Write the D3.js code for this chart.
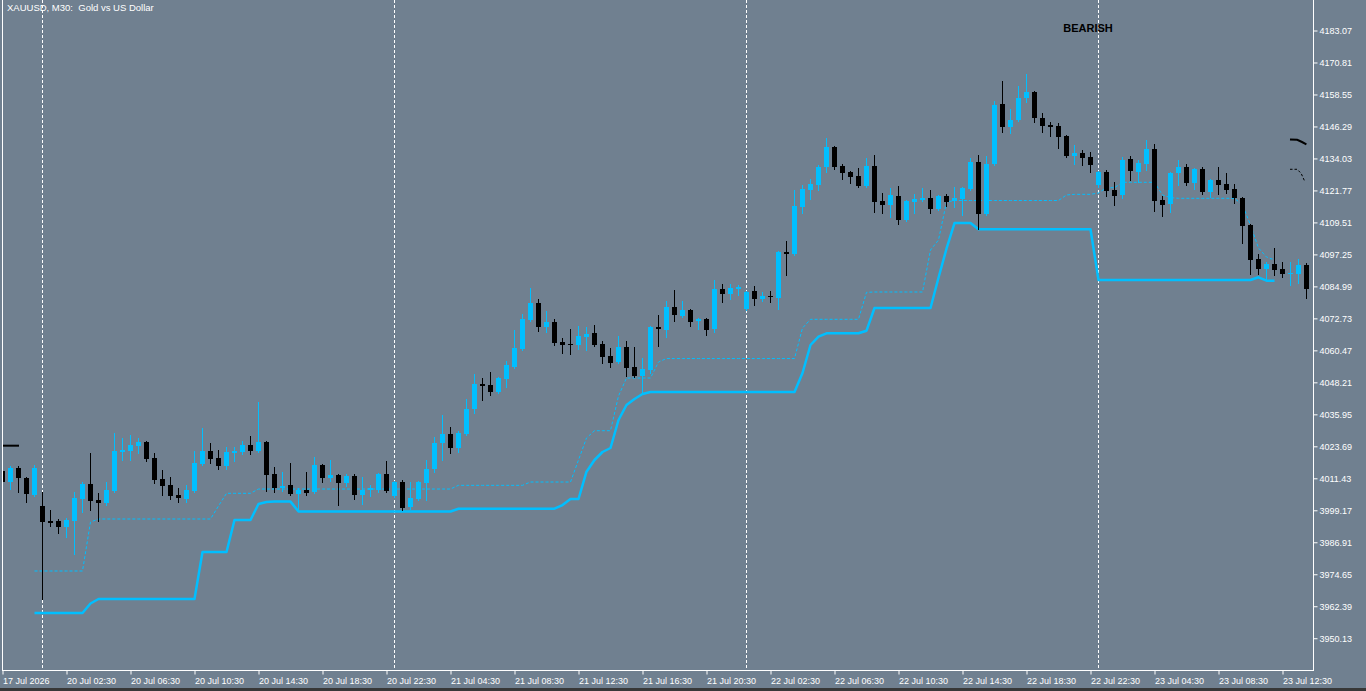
<!DOCTYPE html>
<html>
<head>
<meta charset="utf-8">
<title>XAUUSD, M30</title>
<script src="https://cdn.jsdelivr.net/npm/d3@7"></script>
<style>
  html, body { margin: 0; padding: 0; background: #708090; overflow: hidden; }
  svg { display: block; }
  text { font-family: "Liberation Sans", Arial, sans-serif; }
</style>
</head>
<body>
<svg id="chart" width="1366" height="691"></svg>
<script>

// ---- candles, 30 minute bars, oldest first ----
var opens = [
  4014.04, 4009.82, 4015.19, 4011.35, 4004.84, 4000.62, 3994.87, 3994.87, 3992.57, 3994.87,
  4003.30, 4009.05, 4002.92, 4001.77, 4006.37, 4021.32, 4021.70, 4023.62, 4025.15, 4019.02,
  4010.97, 4008.67, 4004.84, 4003.30, 4006.37, 4016.72, 4021.70, 4019.02, 4015.95, 4020.93,
  4021.32, 4024.00, 4021.70, 4025.15, 4012.88, 4007.52, 4008.67, 4005.22, 4006.75, 4005.99,
  4016.34, 4011.35, 4012.50, 4009.43, 4012.12, 4004.84, 4006.75, 4006.75, 4012.88, 4004.45,
  4009.82, 4000.24, 4003.30, 4009.43, 4014.80, 4024.77, 4028.22, 4022.85, 4028.22, 4037.80,
  4047.38, 4047.00, 4044.32, 4049.30, 4053.90, 4060.79, 4071.91, 4078.42, 4069.23, 4071.15,
  4063.48, 4062.71, 4062.33, 4065.39, 4066.93, 4062.71, 4058.12, 4055.82, 4061.56, 4053.90,
  4050.45, 4052.75, 4069.23, 4068.08, 4076.90, 4073.45, 4075.75, 4071.53, 4072.30, 4068.46,
  4083.80, 4081.88, 4083.80, 4076.13, 4083.03, 4079.96, 4081.11, 4080.35, 4097.98, 4097.21,
  4115.23, 4121.74, 4123.66, 4130.56, 4138.22, 4130.94, 4128.64, 4127.11, 4123.27, 4130.94,
  4117.53, 4115.99, 4119.44, 4110.24, 4117.14, 4117.91, 4118.68, 4114.46, 4119.44, 4117.53,
  4118.29, 4122.13, 4132.48, 4112.54, 4131.71, 4154.71, 4145.89, 4148.57, 4157.01, 4159.31,
  4149.34, 4146.66, 4146.27, 4142.44, 4134.78, 4135.92, 4134.39, 4123.66, 4128.64, 4121.74,
  4119.83, 4133.62, 4128.64, 4131.71, 4137.46, 4117.91, 4116.38, 4128.26, 4130.56, 4124.43,
  4129.79, 4120.98, 4125.58, 4124.04, 4122.13, 4118.68, 4108.33, 4095.30, 4091.46, 4093.38,
  4091.46, 4089.55, 4089.55, 4092.99
];
var highs = [
  4014.80, 4015.95, 4015.95, 4011.74, 4016.34, 4005.99, 3999.09, 3995.64, 3996.02, 4005.99,
  4009.82, 4020.93, 4005.60, 4009.82, 4028.60, 4026.69, 4027.84, 4026.69, 4025.53, 4020.93,
  4014.42, 4011.74, 4007.52, 4008.67, 4021.70, 4030.52, 4024.77, 4022.08, 4023.23, 4023.23,
  4025.53, 4027.46, 4040.48, 4025.53, 4015.57, 4013.65, 4017.10, 4007.52, 4013.65, 4019.40,
  4016.72, 4018.25, 4012.88, 4012.88, 4012.88, 4011.74, 4008.67, 4013.27, 4017.87, 4010.20,
  4010.59, 4009.82, 4010.20, 4018.25, 4027.07, 4035.50, 4030.90, 4029.37, 4041.63, 4051.21,
  4049.69, 4051.98, 4050.07, 4056.20, 4068.08, 4074.21, 4084.18, 4079.96, 4075.36, 4072.30,
  4065.02, 4068.46, 4069.61, 4069.23, 4069.99, 4063.86, 4061.19, 4065.78, 4063.86, 4061.56,
  4057.35, 4069.61, 4073.83, 4079.20, 4083.41, 4079.20, 4076.13, 4072.68, 4072.68, 4087.25,
  4085.71, 4085.71, 4085.33, 4083.03, 4084.95, 4082.65, 4083.03, 4098.36, 4102.20, 4121.74,
  4123.66, 4125.96, 4131.33, 4141.68, 4138.60, 4131.71, 4129.03, 4130.18, 4134.01, 4135.16,
  4120.59, 4122.51, 4123.27, 4117.91, 4120.21, 4122.51, 4121.74, 4119.83, 4120.21, 4122.89,
  4122.89, 4134.01, 4135.16, 4134.78, 4155.86, 4163.52, 4152.79, 4161.61, 4166.21, 4159.69,
  4151.26, 4147.81, 4147.42, 4142.83, 4138.99, 4137.07, 4136.31, 4129.03, 4129.41, 4124.81,
  4134.39, 4134.78, 4133.24, 4140.91, 4139.38, 4119.44, 4128.64, 4133.24, 4131.71, 4130.18,
  4130.56, 4125.96, 4130.56, 4128.26, 4124.04, 4119.06, 4108.71, 4097.21, 4094.15, 4099.51,
  4094.15, 4094.15, 4095.30, 4093.76
];
var lows = [
  4009.05, 4007.13, 4005.99, 4002.15, 4004.45, 3964.97, 3992.96, 3990.27, 3988.74, 3982.22,
  3998.32, 3999.09, 3994.87, 4001.00, 4005.99, 4018.25, 4018.25, 4020.93, 4017.87, 4009.43,
  4004.84, 4003.30, 4002.15, 4002.15, 4005.99, 4016.34, 4017.10, 4014.80, 4014.80, 4017.87,
  4020.55, 4020.55, 4021.32, 4006.37, 4005.99, 4006.37, 4004.84, 3998.70, 4004.84, 4005.60,
  4009.82, 4010.20, 4001.00, 4008.29, 4003.30, 4001.39, 4004.45, 4005.99, 4005.99, 4004.07,
  3999.09, 3999.47, 4002.92, 4002.92, 4013.65, 4018.25, 4020.93, 4021.32, 4027.84, 4036.27,
  4041.25, 4043.17, 4043.93, 4046.23, 4053.52, 4060.41, 4071.53, 4067.70, 4067.31, 4062.33,
  4059.27, 4058.88, 4060.79, 4060.41, 4061.95, 4055.43, 4053.90, 4055.43, 4050.45, 4050.07,
  4044.31, 4051.60, 4061.95, 4065.40, 4071.53, 4073.06, 4069.61, 4068.46, 4066.16, 4067.31,
  4078.81, 4079.96, 4081.50, 4075.75, 4077.66, 4079.20, 4078.81, 4076.13, 4089.17, 4096.83,
  4112.93, 4118.30, 4121.74, 4128.64, 4129.79, 4125.96, 4124.43, 4122.89, 4122.89, 4113.31,
  4112.93, 4111.39, 4108.71, 4109.86, 4112.93, 4117.53, 4112.93, 4114.08, 4115.61, 4115.23,
  4112.16, 4121.74, 4106.80, 4112.16, 4131.33, 4143.97, 4143.59, 4148.19, 4155.47, 4147.81,
  4143.97, 4142.44, 4137.84, 4134.39, 4131.71, 4131.33, 4128.64, 4122.89, 4119.44, 4115.99,
  4118.68, 4125.58, 4124.81, 4129.41, 4113.69, 4111.78, 4113.31, 4123.66, 4123.66, 4122.13,
  4120.21, 4119.06, 4120.21, 4120.59, 4116.76, 4101.43, 4089.55, 4089.55, 4087.25, 4089.17,
  4088.40, 4085.33, 4086.10, 4080.35
];
var closes = [
  4009.82, 4015.19, 4011.35, 4005.22, 4015.19, 3994.49, 3994.11, 3992.57, 3995.26, 4003.69,
  4009.05, 4002.54, 4001.77, 4006.75, 4021.70, 4022.08, 4024.00, 4025.15, 4018.63, 4010.59,
  4008.29, 4004.45, 4003.69, 4006.75, 4017.10, 4021.70, 4018.63, 4015.95, 4021.32, 4021.70,
  4024.00, 4021.70, 4025.15, 4012.50, 4007.52, 4008.29, 4005.22, 4006.75, 4005.60, 4016.34,
  4011.35, 4012.50, 4009.43, 4012.12, 4004.84, 4006.75, 4007.52, 4012.88, 4006.37, 4009.82,
  3999.86, 4003.69, 4009.82, 4014.80, 4024.77, 4028.22, 4022.85, 4028.60, 4037.80, 4047.38,
  4046.62, 4044.32, 4049.69, 4054.67, 4061.19, 4072.30, 4078.42, 4069.23, 4071.15, 4063.10,
  4062.33, 4062.50, 4065.78, 4066.55, 4062.33, 4057.73, 4055.43, 4061.56, 4053.52, 4050.45,
  4053.13, 4069.23, 4068.46, 4076.90, 4073.83, 4075.75, 4071.15, 4072.30, 4068.08, 4083.80,
  4081.88, 4084.18, 4084.56, 4082.65, 4079.96, 4081.11, 4080.73, 4097.98, 4097.21, 4115.61,
  4122.13, 4124.04, 4130.56, 4138.22, 4130.56, 4128.26, 4126.73, 4123.27, 4130.94, 4117.14,
  4115.99, 4119.83, 4110.24, 4117.53, 4118.29, 4118.68, 4114.46, 4119.44, 4117.14, 4118.68,
  4122.51, 4132.48, 4112.54, 4131.71, 4154.32, 4145.89, 4148.57, 4157.01, 4159.31, 4149.34,
  4146.27, 4145.89, 4142.06, 4134.78, 4135.92, 4134.01, 4131.33, 4128.64, 4121.36, 4119.44,
  4133.24, 4129.03, 4132.09, 4137.46, 4117.53, 4115.99, 4128.26, 4130.56, 4124.43, 4129.79,
  4120.98, 4125.58, 4123.66, 4121.74, 4118.68, 4107.94, 4094.91, 4091.46, 4093.38, 4091.08,
  4089.55, 4089.90, 4092.99, 4083.80
];

// ---- indicator: trailing level (solid) and signal level (dashed), null = not drawn ----
var trailLine = [
  null, null, null, null, 3959.61, 3959.61, 3959.61, 3959.61, 3959.61, 3959.61,
  3959.61, 3963.26, 3964.97, 3964.97, 3964.97, 3964.97, 3964.97, 3964.97, 3964.97, 3964.97,
  3964.97, 3964.97, 3964.97, 3964.97, 3964.97, 3982.99, 3982.99, 3982.99, 3982.99, 3995.26,
  3995.26, 3995.26, 4001.39, 4002.15, 4002.30, 4002.30, 4002.30, 3998.51, 3998.51, 3998.51,
  3998.51, 3998.51, 3998.51, 3998.51, 3998.51, 3998.51, 3998.51, 3998.51, 3998.51, 3998.51,
  3998.51, 3998.51, 3998.51, 3998.51, 3998.51, 3998.51, 3998.51, 3999.58, 3999.58, 3999.58,
  3999.58, 3999.58, 3999.58, 3999.58, 3999.58, 3999.58, 3999.58, 3999.58, 3999.58, 3999.58,
  4001.00, 4003.30, 4003.30, 4013.77, 4018.25, 4021.32, 4022.85, 4033.58, 4039.33, 4041.63,
  4043.55, 4044.31, 4044.31, 4044.31, 4044.31, 4044.31, 4044.31, 4044.31, 4044.31, 4044.31,
  4044.31, 4044.31, 4044.31, 4044.31, 4044.31, 4044.31, 4044.31, 4044.31, 4044.31, 4044.31,
  4051.60, 4062.33, 4065.51, 4066.82, 4066.82, 4066.82, 4066.82, 4066.82, 4067.81, 4076.51,
  4076.51, 4076.51, 4076.51, 4076.51, 4076.51, 4076.51, 4076.51, 4088.13, 4099.24, 4109.09,
  4109.09, 4109.09, 4106.68, 4106.68, 4106.68, 4106.68, 4106.68, 4106.68, 4106.68, 4106.68,
  4106.68, 4106.68, 4106.68, 4106.68, 4106.68, 4106.68, 4106.68, 4087.25, 4087.25, 4087.25,
  4087.25, 4087.25, 4087.25, 4087.25, 4087.25, 4087.25, 4087.25, 4087.25, 4087.25, 4087.25,
  4087.25, 4087.25, 4087.25, 4087.25, 4087.25, 4087.25, 4087.25, 4088.28, 4086.98, 4086.98,
  null, null, null, null
];
var signalLine = [
  null, null, null, null, 3975.71, 3975.71, 3975.71, 3975.71, 3975.71, 3975.71,
  3975.71, 3994.49, 3995.64, 3995.64, 3995.64, 3995.64, 3995.64, 3995.64, 3995.64, 3995.64,
  3995.64, 3995.64, 3995.64, 3995.64, 3995.64, 3995.64, 3995.64, 4000.62, 4005.49, 4005.49,
  4005.49, 4005.49, 4007.13, 4007.13, 4007.13, 4007.13, 4007.13, 4007.13, 4007.13, 4007.13,
  4007.13, 4007.13, 4007.13, 4007.13, 4007.13, 4007.13, 4007.13, 4007.13, 4007.13, 4007.13,
  4007.13, 4007.13, 4007.13, 4007.13, 4007.13, 4007.13, 4007.13, 4008.55, 4008.55, 4008.55,
  4008.55, 4008.55, 4008.55, 4008.55, 4008.55, 4008.55, 4009.82, 4009.82, 4009.82, 4009.82,
  4009.82, 4009.82, 4018.25, 4026.69, 4029.48, 4029.48, 4029.48, 4042.78, 4049.68, 4049.68,
  4049.68, 4049.68, 4055.82, 4057.16, 4057.16, 4057.16, 4057.16, 4057.16, 4057.16, 4057.16,
  4057.16, 4057.16, 4057.16, 4057.16, 4057.16, 4057.16, 4057.16, 4057.16, 4057.16, 4057.16,
  4068.84, 4072.18, 4072.18, 4072.18, 4072.18, 4072.18, 4072.18, 4072.18, 4082.53, 4082.65,
  4082.65, 4082.65, 4082.65, 4082.65, 4082.65, 4082.65, 4098.74, 4102.58, 4117.14, 4117.72,
  4117.72, 4117.72, 4117.72, 4117.72, 4117.72, 4117.72, 4117.72, 4117.72, 4117.72, 4117.72,
  4117.72, 4117.72, 4117.72, 4119.83, 4120.09, 4120.09, 4120.09, 4120.60, 4122.62, 4122.62,
  4124.70, 4124.70, 4124.70, 4124.70, 4124.70, 4119.83, 4118.80, 4118.56, 4118.56, 4118.56,
  4118.56, 4118.56, 4118.56, 4118.56, 4118.56, 4116.00, 4108.33, 4099.51, 4096.06, 4094.91,
  null, null, null, null
];

// ---- small objects drawn on the chart ----
var leftMarkPrice = 4023.74;                       // short black level at the left edge
var projBars   = [161, 161.9, 162.5, 163.05];      // black projection, solid
var projPrices = [4141.10, 4140.98, 4140.14, 4139.26];
var projDashBars   = [161, 161.9, 162.4, 162.85];  // black projection, dashed
var projDashPrices = [4129.68, 4129.68, 4128.07, 4125.00];

// ---- axes ----
var priceTicks = [4183.07, 4170.81, 4158.55, 4146.29, 4134.03, 4121.77, 4109.51, 4097.25,
  4084.99, 4072.73, 4060.47, 4048.21, 4035.95, 4023.69, 4011.43, 3999.17, 3986.91,
  3974.65, 3962.39, 3950.13];
var timeTickBars = [0, 8, 16, 24, 32, 40, 48, 56, 64, 72, 80, 88, 96, 104, 112, 120, 128, 136, 144, 152, 160];
var timeTickLabels = ["17 Jul 2026", "20 Jul 02:30", "20 Jul 06:30", "20 Jul 10:30", "20 Jul 14:30",
  "20 Jul 18:30", "20 Jul 22:30", "21 Jul 04:30", "21 Jul 08:30", "21 Jul 12:30", "21 Jul 16:30",
  "21 Jul 20:30", "22 Jul 02:30", "22 Jul 06:30", "22 Jul 10:30", "22 Jul 14:30", "22 Jul 18:30",
  "22 Jul 22:30", "23 Jul 04:30", "23 Jul 08:30", "23 Jul 12:30"];
var daySeparatorBars = [5, 49, 93, 137];           // first bar of each trading day

var BULL = '#00bfff', BEAR = '#000000', FG = '#ffffff';

var svg = d3.select('#chart');
var plotRight = 1313, plotBottom = 670, plotLeft = 2;

var x = d3.scaleLinear().domain([0, 163]).range([2, 1306]);
var y = d3.scaleLinear().domain([3937.76, 4194.57]).range([plotBottom, 0]);

svg.append('rect').attr('width', 1366).attr('height', 691).attr('fill', '#708090');

// bottom strip under the chart window
svg.append('rect').attr('x', 0).attr('y', 688).attr('width', 1366).attr('height', 3).attr('fill', '#383838');

svg.append('clipPath').attr('id', 'plot-clip')
  .append('rect').attr('x', plotLeft + 1).attr('y', 0)
  .attr('width', plotRight - plotLeft - 1).attr('height', plotBottom);

var plot = svg.append('g').attr('clip-path', 'url(#plot-clip)');

// day separators
plot.selectAll('line.sep').data(daySeparatorBars).join('line')
  .attr('class', 'sep')
  .attr('x1', function(d) { return Math.round(x(d)) + 0.5; })
  .attr('x2', function(d) { return Math.round(x(d)) + 0.5; })
  .attr('y1', 0).attr('y2', plotBottom)
  .attr('stroke', FG).attr('stroke-width', 1).attr('stroke-dasharray', '3,2');

// indicator lines
var lineGen = d3.line()
  .defined(function(d) { return d != null; })
  .x(function(d, i) { return Math.round(x(i)) + 0.5; })
  .y(function(d) { return y(d); });

plot.append('path').datum(signalLine)
  .attr('d', lineGen).attr('fill', 'none')
  .attr('stroke', BULL).attr('stroke-width', 1).attr('stroke-dasharray', '3,2');

plot.append('path').datum(trailLine)
  .attr('d', lineGen).attr('fill', 'none')
  .attr('stroke', BULL).attr('stroke-width', 2.5).attr('stroke-linejoin', 'round');

// candles
var bars = d3.range(opens.length);
var candle = plot.selectAll('g.candle').data(bars).join('g').attr('class', 'candle');

candle.append('line')
  .attr('x1', function(i) { return Math.round(x(i)) + 0.5; })
  .attr('x2', function(i) { return Math.round(x(i)) + 0.5; })
  .attr('y1', function(i) { return Math.round(y(highs[i])); })
  .attr('y2', function(i) { return Math.round(y(lows[i])) + 1; })
  .attr('stroke', function(i) { return closes[i] >= opens[i] ? BULL : BEAR; })
  .attr('stroke-width', 1);

candle.append('rect')
  .attr('x', function(i) { return Math.round(x(i)) - 2; })
  .attr('width', 5)
  .attr('y', function(i) { return Math.round(y(Math.max(opens[i], closes[i]))); })
  .attr('height', function(i) {
    var top = Math.round(y(Math.max(opens[i], closes[i])));
    var bot = Math.round(y(Math.min(opens[i], closes[i])));
    return Math.max(1, bot - top);
  })
  .attr('fill', function(i) { return closes[i] >= opens[i] ? BULL : BEAR; });

// small black objects
plot.append('line')
  .attr('x1', x(0)).attr('x2', x(2) + 1)
  .attr('y1', y(leftMarkPrice)).attr('y2', y(leftMarkPrice))
  .attr('stroke', BEAR).attr('stroke-width', 2);

var objLine = d3.line()
  .x(function(d) { return x(d[0]); })
  .y(function(d) { return y(d[1]); });

plot.append('path').datum(d3.zip(projBars, projPrices))
  .attr('d', objLine).attr('fill', 'none')
  .attr('stroke', BEAR).attr('stroke-width', 2);

plot.append('path').datum(d3.zip(projDashBars, projDashPrices))
  .attr('d', objLine).attr('fill', 'none')
  .attr('stroke', BEAR).attr('stroke-width', 1).attr('stroke-dasharray', '2.5,2');

// signal label
svg.append('text')
  .attr('x', 1088).attr('y', 32)
  .attr('text-anchor', 'middle')
  .attr('font-size', 11).attr('font-weight', 'bold')
  .attr('fill', BEAR)
  .text('BEARISH');

// title
svg.append('text')
  .attr('x', 7).attr('y', 10.5)
  .attr('font-size', 9.5).attr('fill', FG)
  .attr('xml:space', 'preserve')
  .text('XAUUSD, M30:\u00a0 Gold vs US Dollar');

// frame
svg.append('line').attr('x1', plotLeft + 0.5).attr('x2', plotLeft + 0.5)
  .attr('y1', 0).attr('y2', plotBottom + 0.5).attr('stroke', FG);

// price axis
var yAxis = d3.axisRight(y)
  .tickValues(priceTicks)
  .tickSize(4).tickSizeOuter(0).tickPadding(2)
  .tickFormat(d3.format('.2f'));

var yG = svg.append('g').attr('transform', 'translate(' + (plotRight + 0.5) + ',0.5)').call(yAxis);
yG.select('.domain').remove();
yG.selectAll('.tick line').attr('stroke', FG);
yG.selectAll('.tick text').attr('fill', FG).attr('font-size', 9)
  .attr('font-family', '"Liberation Sans", Arial, sans-serif');
svg.append('line').attr('x1', plotRight + 0.5).attr('x2', plotRight + 0.5)
  .attr('y1', 0).attr('y2', plotBottom + 0.5).attr('stroke', FG);

// time axis
var xAxis = d3.axisBottom(x)
  .tickValues(timeTickBars)
  .tickSize(4).tickSizeOuter(0)
  .tickFormat(function(d, i) { return timeTickLabels[i]; });

var xG = svg.append('g').attr('transform', 'translate(0.5,' + (plotBottom + 0.5) + ')').call(xAxis);
xG.select('.domain').remove();
xG.selectAll('.tick line').attr('stroke', FG);
xG.selectAll('.tick text')
  .attr('fill', FG).attr('font-size', 9)
  .attr('font-family', '"Liberation Sans", Arial, sans-serif')
  .attr('text-anchor', 'start')
  .attr('x', 0).attr('y', 13).attr('dy', 0);
svg.append('line').attr('x1', plotLeft).attr('x2', plotRight + 1)
  .attr('y1', plotBottom + 0.5).attr('y2', plotBottom + 0.5).attr('stroke', FG);

</script>
</body>
</html>
